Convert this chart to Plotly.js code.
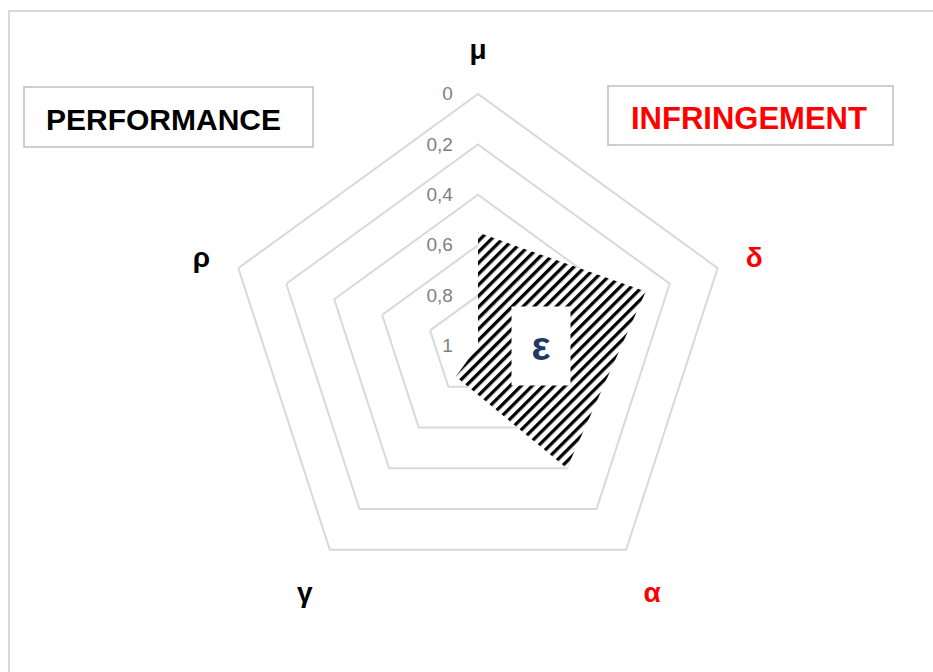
<!DOCTYPE html>
<html>
<head>
<meta charset="utf-8">
<script src="https://cdn.plot.ly/plotly-3.0.1.min.js"></script>
<style>
  body { margin: 0; background: #fff; }
  #chart { width: 933px; height: 672px; }
</style>
</head>
<body>
<div id="chart"></div>
<script>
// axes of the radar, clockwise from the top
const axes = ['μ', 'δ', 'α', 'γ', 'ρ'];
const axisColors = ['#000000', '#FF0000', '#FF0000', '#000000', '#000000'];
// scores (radial axis reversed: 1 at the centre)
const scores = [0.55, 0.30, 0.40, 0.85, 1];
const radialTicks = [0, 0.2, 0.4, 0.6, 0.8, 1];

const gridColor = '#D9D9D9';
const W = 933, H = 672;
const cx = 478, cy = 346, R = 252;   // pentagon centre and radius in px

// px -> paper helpers
const px = x => x / W;
const py = y => 1 - y / H;

const theta = axes.map((a, i) => `<span style="color:${axisColors[i]}">${a}</span>`);

const radar = {
  type: 'scatterpolar',
  r: scores.concat(scores[0]),
  theta: theta.concat(theta[0]),
  mode: 'lines',
  line: { width: 0, color: '#000' },
  fill: 'toself',
  fillcolor: '#000',
  fillpattern: { shape: '/', fgcolor: '#000', bgcolor: '#fff', size: 11, solidity: 0.42 },
  hoverinfo: 'skip'
};

const layout = {
  width: W,
  height: H,
  margin: { l: 0, r: 0, t: 0, b: 0 },
  paper_bgcolor: '#fff',
  showlegend: false,
  separators: ', ',
  font: { family: 'Liberation Sans, Arial, sans-serif' },
  polar: {
    domain: { x: [px(cx - R), px(cx + R)], y: [py(cy + R), py(cy - R)] },
    gridshape: 'linear',
    bgcolor: 'rgba(0,0,0,0)',
    radialaxis: {
      range: [1, 0],
      tickmode: 'array',
      tickvals: radialTicks,
      angle: 90,
      tickangle: 90,
      side: 'counterclockwise',
      showline: false,
      gridcolor: gridColor,
      gridwidth: 2,
      ticks: 'outside',
      ticklen: 18,
      tickcolor: 'rgba(0,0,0,0)',
      tickfont: { size: 19, color: '#808080' }
    },
    angularaxis: {
      direction: 'clockwise',
      rotation: 90,
      showgrid: false,
      showline: true,
      linecolor: gridColor,
      linewidth: 2,
      ticks: 'outside',
      ticklen: 23,
      tickcolor: 'rgba(0,0,0,0)',
      tickfont: { size: 28, color: '#000', weight: 'bold' }
    }
  },
  shapes: [
    // chart frame
    { type: 'rect', xref: 'paper', yref: 'paper', x0: px(9), x1: px(960), y0: py(11), y1: py(700),
      line: { color: gridColor, width: 2 } },
    { type: 'rect', xref: 'paper', yref: 'paper', x0: px(24), x1: px(313), y0: py(87), y1: py(147),
      line: { color: '#BFBFBF', width: 1.5 }, fillcolor: '#fff' },
    { type: 'rect', xref: 'paper', yref: 'paper', x0: px(608), x1: px(893), y0: py(86), y1: py(145),
      line: { color: '#BFBFBF', width: 1.5 }, fillcolor: '#fff' }
  ],
  annotations: [
    { xref: 'paper', yref: 'paper', x: px(163), y: py(119), xanchor: 'center', yanchor: 'middle',
      showarrow: false, text: 'PERFORMANCE', font: { size: 30, color: '#000', weight: 'bold' } },
    { xref: 'paper', yref: 'paper', x: px(749), y: py(118), xanchor: 'center', yanchor: 'middle',
      showarrow: false, text: 'INFRINGEMENT', font: { size: 31, color: '#FF0000', weight: 'bold' } },
    { xref: 'paper', yref: 'paper', x: px(541), y: py(346), xanchor: 'center', yanchor: 'middle',
      showarrow: false, text: 'ε', bgcolor: '#fff', width: 58, height: 78, borderpad: 0,
      font: { size: 40, color: '#1F3864', weight: 'bold' } }
  ]
};

Plotly.newPlot('chart', [radar], layout, { staticPlot: true }).then(gd => {
  // fallback hatch if the polar fill ignores fillpattern
  const fill = gd.querySelector('.polarlayer .js-fill');
  if (!fill || /url\(/.test(fill.style.fill || '')) return;
  const svg = gd.querySelector('svg.main-svg');
  const ns = 'http://www.w3.org/2000/svg';
  let defs = svg.querySelector('defs');
  if (!defs) { defs = document.createElementNS(ns, 'defs'); svg.insertBefore(defs, svg.firstChild); }
  const pat = document.createElementNS(ns, 'pattern');
  pat.setAttribute('id', 'hatch');
  pat.setAttribute('patternUnits', 'userSpaceOnUse');
  pat.setAttribute('width', 7.8);
  pat.setAttribute('height', 7.8);
  pat.setAttribute('patternTransform', 'rotate(45)');
  const bg = document.createElementNS(ns, 'rect');
  bg.setAttribute('width', 7.8); bg.setAttribute('height', 7.8); bg.setAttribute('fill', '#fff');
  const st = document.createElementNS(ns, 'rect');
  st.setAttribute('width', 3.3); st.setAttribute('height', 7.8); st.setAttribute('fill', '#000');
  pat.appendChild(bg); pat.appendChild(st);
  defs.appendChild(pat);
  fill.style.fill = 'url(#hatch)';
  fill.style.fillOpacity = 1;
});
</script>
</body>
</html>
